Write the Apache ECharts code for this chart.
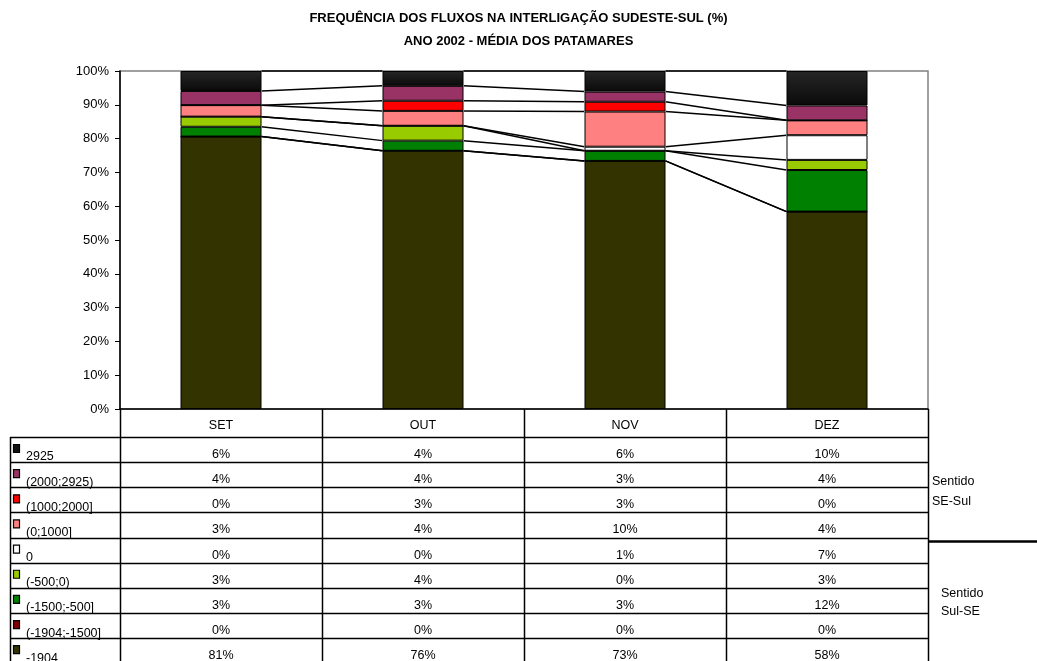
<!DOCTYPE html>
<html>
<head>
<meta charset="utf-8">
<script src="https://cdn.jsdelivr.net/npm/echarts@6/dist/echarts.min.js"></script>
<style>
  html, body { margin: 0; padding: 0; background: #fff; }
  #chart { width: 1037px; height: 661px; }
</style>
</head>
<body>
<div id="chart"></div>
<script>
  // meses
  const months = ['SET', 'OUT', 'NOV', 'DEZ'];

  // faixas de fluxo, de cima para baixo (ordem da tabela)
  const bandNames = ['2925', '(2000;2925)', '(1000;2000]', '(0;1000]', '0',
    '(-500;0)', '(-1500;-500]', '(-1904;-1500]', '-1904'];

  // frequência (%) de cada faixa por mês
  const v2925 = [5.9, 4.4, 6.1, 10.2];
  const v2000_2925 = [4.2, 4.4, 3.0, 4.4];
  const v1000_2000 = [0, 3.0, 2.9, 0];
  const v0_1000 = [3.4, 4.4, 10.4, 4.4];
  const v0 = [0, 0, 1.2, 7.3];
  const vm500_0 = [3.0, 4.4, 0, 3.0];
  const vm1500_m500 = [2.9, 3.0, 3.0, 12.3];
  const vm1904_m1500 = [0, 0, 0, 0];
  const vm1904 = [80.6, 76.4, 73.4, 58.4];

  const yTicks = [0, 10, 20, 30, 40, 50, 60, 70, 80, 90, 100];

  const bandValues = [v2925, v2000_2925, v1000_2000, v0_1000, v0,
    vm500_0, vm1500_m500, vm1904_m1500, vm1904];

  const blackGrad = new echarts.graphic.LinearGradient(0, 0, 0, 1, [
    { offset: 0, color: '#262626' },
    { offset: 1, color: '#0a0a0a' },
  ]);
  const bandColors = [blackGrad, '#993366', '#ff0000', '#ff8080', '#ffffff',
    '#99cc00', '#008000', '#800000', '#333300'];
  const keyColors = ['#111111', '#993366', '#ff0000', '#ff8080', '#ffffff',
    '#99cc00', '#008000', '#800000', '#333300'];

  const FONT = 'Liberation Sans, Arial, sans-serif';

  // geometria
  const W = 1037;
  const gridLeft = 120, gridRight = 928, gridTop = 71, gridBottom = 409;
  const colW = (gridRight - gridLeft) / months.length;
  const headerBottom = 437;
  const rowH = 25.15;
  const tableLeft = 10;
  const barW = 81;

  // séries empilhadas, de baixo para cima
  const order = bandNames.map((_, i) => i).reverse();
  const barSeries = order.map((idx) => ({
    name: bandNames[idx],
    type: 'bar',
    stack: 'total',
    barWidth: barW,
    data: bandValues[idx],
    itemStyle: { color: bandColors[idx], borderColor: '#000', borderWidth: 1 },
    emphasis: { disabled: true },
  }));

  // linhas de série: topo acumulado de cada faixa entre colunas vizinhas
  const tops = [];
  let cum = months.map(() => 0);
  order.forEach((idx) => {
    cum = cum.map((c, m) => c + bandValues[idx][m]);
    tops.push(cum.slice());
  });
  const lineData = [];
  for (let m = 0; m < months.length - 1; m++) {
    tops.forEach((t) => lineData.push([m, t[m], t[m + 1]]));
  }

  const seriesLines = {
    type: 'custom',
    data: lineData,
    encode: { x: 0, y: 1 },
    z: 3,
    silent: true,
    renderItem: (params, api) => {
      const m = api.value(0);
      const p1 = api.coord([m, api.value(1)]);
      const p2 = api.coord([m + 1, api.value(2)]);
      const half = barW / 2;
      return {
        type: 'line',
        shape: { x1: p1[0] + half, y1: p1[1], x2: p2[0] - half, y2: p2[1] },
        style: { stroke: '#000', lineWidth: 1.5 },
      };
    },
  };

  // tabela de dados
  const g = [];
  const hline = (x1, x2, y, w) => g.push({ type: 'line', silent: true,
    shape: { x1, y1: y, x2, y2: y }, style: { stroke: '#000', lineWidth: w || 1 } });
  const vline = (x, y1, y2, w) => g.push({ type: 'line', silent: true,
    shape: { x1: x, y1, x2: x, y2 }, style: { stroke: '#000', lineWidth: w || 1 } });
  const text = (x, y, s, align) => g.push({ type: 'text', silent: true, x, y,
    style: { text: s, fontSize: 12.5, fontFamily: FONT, fill: '#000',
      textAlign: align || 'center', align: align || 'center',
      textVerticalAlign: 'middle', verticalAlign: 'middle' } });

  const nRows = bandNames.length;
  const tableBottom = headerBottom + rowH * nRows;
  for (let c = 0; c <= months.length; c++) {
    vline(Math.round(gridLeft + c * colW) + 0.5, gridBottom, tableBottom, 1.5);
  }
  vline(tableLeft + 0.5, headerBottom, tableBottom, 1.5);
  for (let r = 0; r <= nRows; r++) {
    hline(tableLeft, gridRight, Math.round(headerBottom + r * rowH) + 0.5, 1.5);
  }
  months.forEach((m, c) => text(gridLeft + (c + 0.5) * colW, 426, m));
  bandNames.forEach((name, r) => {
    const top = headerBottom + r * rowH;
    g.push({ type: 'rect', silent: true,
      shape: { x: 13.5, y: top + 7.5, width: 6, height: 8 },
      style: { fill: keyColors[r], stroke: '#000', lineWidth: 1.2 } });
    text(26, top + 20, name, 'left');
    bandValues[r].forEach((v, c) => {
      text(gridLeft + (c + 0.5) * colW, top + 17.5, Math.round(v) + '%');
    });
  });
  // sentidos
  hline(gridRight, W, 541.5, 2.5);
  text(932, 482, 'Sentido', 'left');
  text(932, 502, 'SE-Sul', 'left');
  text(941, 594, 'Sentido', 'left');
  text(941, 612, 'Sul-SE', 'left');

  const chart = echarts.init(document.getElementById('chart'));
  chart.setOption({
    animation: false,
    backgroundColor: '#fff',
    title: {
      text: 'FREQUÊNCIA DOS FLUXOS NA INTERLIGAÇÃO SUDESTE-SUL (%)\nANO 2002 - MÉDIA DOS PATAMARES',
      left: 'center',
      top: 2,
      textStyle: { fontFamily: FONT, fontSize: 13, fontWeight: 'bold', color: '#000', lineHeight: 23 },
    },
    grid: {
      left: gridLeft, right: W - gridRight, top: gridTop, bottom: 661 - gridBottom,
      show: true, borderColor: '#808080', borderWidth: 1.5, backgroundColor: '#fff',
    },
    xAxis: {
      type: 'category',
      data: months,
      axisLine: { lineStyle: { color: '#000', width: 1.5 } },
      axisTick: { show: false },
      axisLabel: { show: false },
    },
    yAxis: {
      type: 'value',
      min: yTicks[0],
      max: yTicks[yTicks.length - 1],
      interval: yTicks[1] - yTicks[0],
      axisLine: { show: true, lineStyle: { color: '#000', width: 1.5 } },
      axisTick: { show: true, length: 5, lineStyle: { color: '#000' } },
      splitLine: { show: false },
      axisLabel: { formatter: '{value}%', fontFamily: FONT, fontSize: 13, color: '#000', margin: 11 },
    },
    series: [...barSeries, seriesLines],
    graphic: g,
  });
</script>
</body>
</html>
